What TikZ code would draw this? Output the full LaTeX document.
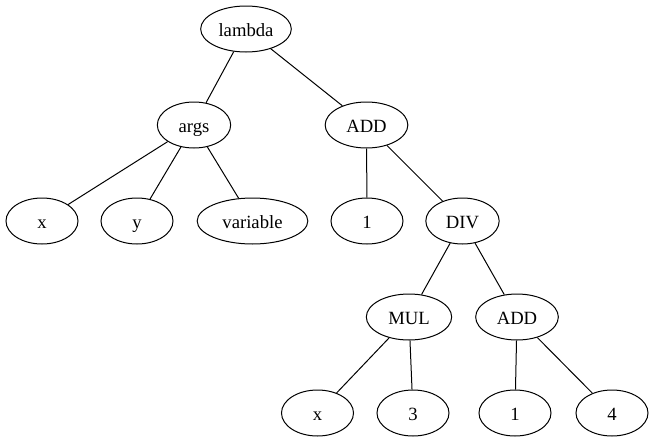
\documentclass[tikz,border=0pt]{standalone}
\usepackage{fontspec}
\setmainfont{Liberation Serif}
\usetikzlibrary{shapes.geometric}
\begin{document}
\begin{tikzpicture}[x=0.75bp,y=-0.75bp,
  tn/.style={ellipse,draw,line width=0.75bp,inner sep=0pt,minimum height=34.5bp,
    minimum width=54bp,text height=10.5bp,text depth=0bp,
    font=\fontsize{14bp}{16bp}\selectfont},
  edge/.style={draw,line width=0.75bp}]
\useasboundingbox (0,0) rectangle (652,443);
% level 0
\node[tn,minimum width=68bp] (lambda) at (246,29) {lambda};
% level 1
\node[tn,minimum width=55bp] (args) at (194,125) {args};
\node[tn,minimum width=62bp] (add) at (366.5,125) {ADD};
% level 2
\node[tn] (x) at (42,221) {x};
\node[tn] (y) at (137,221) {y};
\node[tn,minimum width=83bp] (variable) at (252.5,221) {variable};
\node[tn] (one) at (367,221) {1};
\node[tn,minimum width=55bp] (div) at (462.5,221) {DIV};
% level 3
\node[tn,minimum width=64bp] (mul) at (409,317) {MUL};
\node[tn,minimum width=62bp] (addb) at (517,317) {ADD};
% level 4
\node[tn] (xb) at (317.5,413) {x};
\node[tn] (three) at (413,413) {3};
\node[tn] (oneb) at (515,413) {1};
\node[tn] (four) at (612,413) {4};
% edges
\draw[edge] (lambda) -- (args);
\draw[edge] (lambda) -- (add);
\draw[edge] (args) -- (x);
\draw[edge] (args) -- (y);
\draw[edge] (args) -- (variable);
\draw[edge] (add) -- (one);
\draw[edge] (add) -- (div);
\draw[edge] (div) -- (mul);
\draw[edge] (div) -- (addb);
\draw[edge] (mul) -- (xb);
\draw[edge] (mul) -- (three);
\draw[edge] (addb) -- (oneb);
\draw[edge] (addb) -- (four);
\end{tikzpicture}
\end{document}
